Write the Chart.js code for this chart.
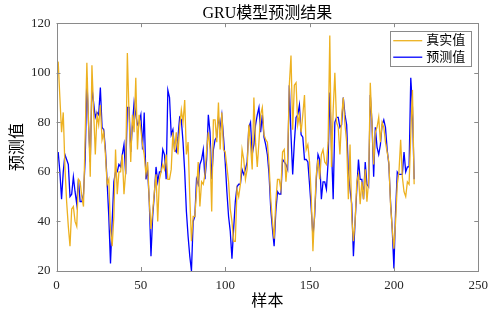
<!DOCTYPE html>
<html>
<head>
<meta charset="utf-8">
<script src="https://cdn.jsdelivr.net/npm/chart.js@4/dist/chart.umd.min.js"></script>
<style>
  html, body { margin: 0; padding: 0; background: #fff; }
  canvas { display: block; }
</style>
</head>
<body>
<canvas id="resultChart" width="495" height="313"></canvas>
<script>
// values, samples 1..212
const trueValues = [
    104.5, 90, 76, 84, 62, 48, 38, 30, 45, 46,
    40, 38, 57, 56, 50, 46, 75, 104, 80, 58,
    103, 85, 67, 83, 79, 87, 73, 76, 67, 55,
    57, 37, 30, 42, 69, 51, 60, 60, 67, 51,
    60, 108, 83, 64, 83, 76, 98, 69, 83, 77,
    71, 67, 59, 64, 48, 37, 44, 52, 59, 40,
    57, 60, 63, 61, 67, 57, 57, 61, 76, 68,
    76, 67, 78, 85, 80, 89, 67, 72, 50, 32,
    42, 42, 52, 64, 46, 56, 55, 59, 69, 76,
    69, 44, 81, 81, 72, 88, 69, 84, 69, 68,
    62, 56, 45, 40, 32, 32, 53, 50, 55, 69,
    65, 57, 61, 79, 71, 61, 90, 72, 62, 72,
    83, 86, 75, 73, 72, 63, 49, 40, 33, 48,
    57, 57, 53, 68, 69, 56, 65, 95, 107, 77,
    95, 96, 79, 83, 76, 83, 91, 69, 71, 64,
    50, 28, 44, 59, 65, 57, 67, 69, 64, 63,
    72, 115, 62, 85, 100, 80, 78, 67, 82, 90,
    79, 72, 49, 71, 42, 32, 40, 56, 59, 47,
    56, 49, 61, 48, 56, 96, 79, 63, 76, 78,
    82, 72, 80, 78, 72, 68, 64, 47, 37, 29,
    40, 55, 60, 73, 58, 52, 50, 56, 55, 75,
    93, 55
];

const predValues = [
    68, 60, 49, 60, 67, 65, 63, 50, 51, 58,
    52, 47, 57, 48, 48, 51, 65, 98, 79, 64,
    94, 88, 82, 84, 83, 94, 78, 77, 69, 56,
    42, 23, 40, 56, 60, 60, 63, 62, 67, 71,
    59, 86, 86, 68, 79, 88, 83, 79, 80, 83,
    69, 84, 57, 61, 48, 26, 42, 51, 62, 56,
    60, 60, 69, 67, 57, 93, 90, 75, 77, 69,
    68, 74, 82, 81, 72, 60, 44, 34, 26, 20,
    40, 42, 57, 55, 63, 65, 69, 57, 65, 83,
    76, 57, 69, 73, 74, 82, 78, 83, 74, 64,
    52, 42, 36, 25, 37, 48, 54, 55, 55, 61,
    59, 61, 64, 78, 80, 67, 71, 79, 83, 86,
    76, 83, 74, 71, 67, 59, 45, 37, 30, 44,
    52, 51, 51, 65, 64, 63, 61, 95, 75, 59,
    72, 82, 83, 87, 75, 74, 65, 65, 64, 55,
    45, 34, 42, 57, 67, 65, 49, 56, 56, 53,
    64, 92, 70, 49, 80, 82, 82, 78, 79, 90,
    83, 79, 60, 53, 47, 26, 40, 53, 65, 57,
    57, 49, 64, 55, 54, 91, 80, 58, 78, 70,
    67, 71, 79, 81, 78, 69, 63, 48, 37, 21,
    44, 60, 59, 59, 59, 68, 60, 62, 62, 98,
    86, 57
];

const xTicks = [0, 50, 100, 150, 200, 250];
const yTicks = [20, 40, 60, 80, 100, 120];

const seriesLabels = ['真实值', '预测值'];
const chartTitle = 'GRU模型预测结果';
const xTitle = '样本';
const yTitle = '预测值';

const serifFont = "'Liberation Serif', 'Times New Roman', 'Noto Sans CJK SC', serif";
const cjkFont = "'Liberation Serif', 'Noto Sans CJK SC', serif";
const boxColor = '#8a8a8a';

const toPoints = values => values.map((v, i) => ({ x: i + 1, y: v }));

// matlab style box with inward ticks on all four sides
const axesBox = {
    id: 'axesBox',
    afterDatasetsDraw(chart) {
        const { ctx, chartArea: a, scales } = chart;
        const len = 4;
        ctx.save();
        ctx.strokeStyle = boxColor;
        ctx.lineWidth = 1;
        ctx.strokeRect(Math.round(a.left) + 0.5, Math.round(a.top) + 0.5,
            Math.round(a.right) - Math.round(a.left), Math.round(a.bottom) - Math.round(a.top));
        ctx.beginPath();
        scales.x.ticks.forEach(t => {
            const px = Math.round(scales.x.getPixelForValue(t.value)) + 0.5;
            ctx.moveTo(px, a.bottom);
            ctx.lineTo(px, a.bottom - len);
            ctx.moveTo(px, a.top);
            ctx.lineTo(px, a.top + len);
        });
        scales.y.ticks.forEach(t => {
            const py = Math.round(scales.y.getPixelForValue(t.value)) + 0.5;
            ctx.moveTo(a.left, py);
            ctx.lineTo(a.left + len, py);
            ctx.moveTo(a.right, py);
            ctx.lineTo(a.right - len, py);
        });
        ctx.stroke();
        ctx.restore();
    }
};

// legend box inside the top right corner of the axes
const insideLegend = {
    id: 'insideLegend',
    afterDraw(chart) {
        const { ctx, chartArea: a } = chart;
        const sets = chart.data.datasets;
        const right = a.right - 7;
        const left = right - 81;
        const top = a.top + 8;
        const rowH = 16.5;
        const height = rowH * sets.length + 2;
        ctx.save();
        ctx.fillStyle = '#fff';
        ctx.fillRect(left, top, right - left, height);
        ctx.strokeStyle = boxColor;
        ctx.lineWidth = 1;
        ctx.strokeRect(Math.round(left) + 0.5, Math.round(top) + 0.5, Math.round(right - left), Math.round(height));
        ctx.font = '13px ' + cjkFont;
        ctx.textBaseline = 'middle';
        sets.forEach((ds, i) => {
            const y = top + 9.5 + i * rowH;
            ctx.strokeStyle = ds.borderColor;
            ctx.lineWidth = 1.3;
            ctx.beginPath();
            ctx.moveTo(left + 3, y);
            ctx.lineTo(left + 32, y);
            ctx.stroke();
            ctx.fillStyle = '#000';
            ctx.fillText(ds.label, left + 36, y);
        });
        ctx.restore();
    }
};

const ctx = document.getElementById('resultChart').getContext('2d');

new Chart(ctx, {
    type: 'line',
    data: {
        datasets: [
            {
                label: seriesLabels[0],
                data: toPoints(trueValues),
                borderColor: '#EDB120',
                borderWidth: 1.3,
                pointRadius: 0,
                tension: 0
            },
            {
                label: seriesLabels[1],
                data: toPoints(predValues),
                borderColor: '#0000FF',
                borderWidth: 1.3,
                pointRadius: 0,
                tension: 0
            }
        ]
    },
    options: {
        responsive: false,
        animation: false,
        devicePixelRatio: 1,
        layout: {
            padding: { left: 0, right: 16, top: 0, bottom: 0 }
        },
        plugins: {
            legend: { display: false },
            tooltip: { enabled: false },
            title: {
                display: true,
                text: chartTitle,
                fullSize: false,
                color: '#000',
                font: { family: cjkFont, size: 16, weight: 'normal' },
                padding: { top: 4, bottom: 0 }
            }
        },
        scales: {
            x: {
                type: 'linear',
                min: 0,
                max: 250,
                afterBuildTicks: scale => { scale.ticks = xTicks.map(v => ({ value: v })); },
                afterFit: scale => { scale.height = 42; },
                grid: { display: false, drawTicks: false },
                border: { display: false },
                ticks: {
                    color: '#262626',
                    padding: 7,
                    maxRotation: 0,
                    font: { family: serifFont, size: 13 }
                },
                title: {
                    display: true,
                    text: xTitle,
                    color: '#000',
                    font: { family: cjkFont, size: 16 },
                    padding: { top: 0, bottom: 1.5 }
                }
            },
            y: {
                min: 20,
                max: 120,
                afterBuildTicks: scale => { scale.ticks = yTicks.map(v => ({ value: v })); },
                afterFit: scale => { scale.width = 56.5; },
                grid: { display: false, drawTicks: false },
                border: { display: false },
                ticks: {
                    color: '#262626',
                    padding: 6,
                    font: { family: serifFont, size: 13 }
                },
                title: {
                    display: true,
                    text: yTitle,
                    color: '#000',
                    font: { family: cjkFont, size: 16 },
                    padding: { top: 8.5, bottom: 0 }
                }
            }
        }
    },
    plugins: [axesBox, insideLegend]
});
</script>
</body>
</html>
